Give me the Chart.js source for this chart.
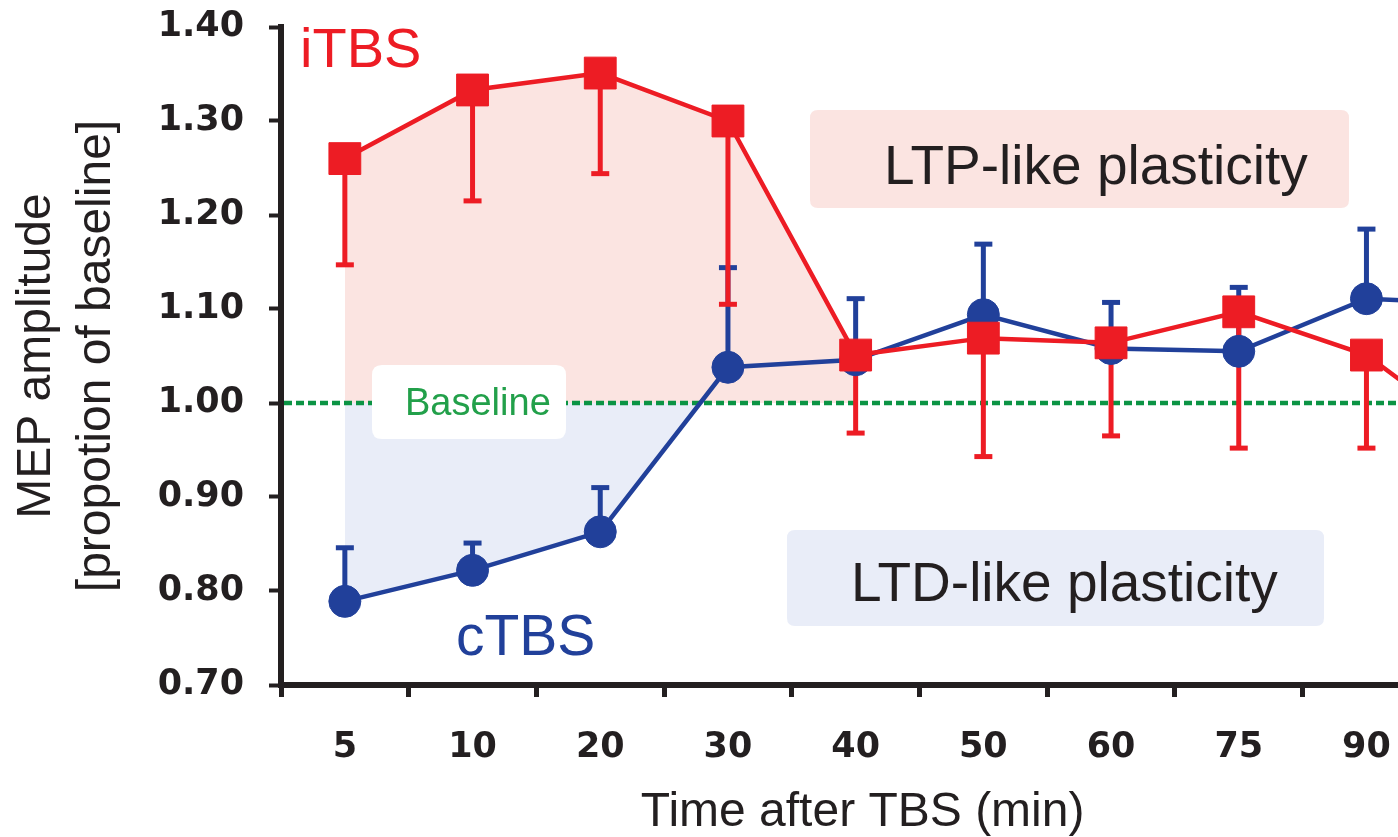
<!DOCTYPE html>
<html>
<head>
<meta charset="utf-8">
<script src="https://cdn.jsdelivr.net/npm/chart.js@4.4.1/dist/chart.umd.min.js"></script>
<style>
html,body{margin:0;padding:0;overflow:hidden;background:#fff;width:1398px;height:837px}
#wrap{position:absolute;left:0;top:0;width:1600px;height:837px}
</style>
</head>
<body>
<div id="wrap"><canvas id="c" width="1600" height="837"></canvas></div>
<script>
// ---- data ----
const categories = ['5', '10', '20', '30', '40', '50', '60', '75', '90', '120'];
const itbsMean = [1.260, 1.333, 1.351, 1.300, 1.051, 1.069, 1.064, 1.097, 1.051, 0.950];
const itbsSem  = [0.113, 0.118, 0.107, 0.195, 0.083, 0.126, 0.099, 0.145, 0.099, 0.100];
const ctbsMean = [0.789, 0.822, 0.863, 1.038, 1.046, 1.094, 1.058, 1.055, 1.111, 1.105];
const ctbsSem  = [0.057, 0.029, 0.047, 0.106, 0.065, 0.075, 0.049, 0.068, 0.074, 0.070];
const itbsShade = [1.260, 1.333, 1.351, 1.300, 1.051, null, null, null, null, null];
const ctbsShade = [0.789, 0.822, 0.863, 1.038, null, null, null, null, null, null];
const baselineValue = 1.00;
const yTicks = [0.70, 0.80, 0.90, 1.00, 1.10, 1.20, 1.30, 1.40];

// ---- style ----
const RED = '#ed1c24', BLUE = '#21409a', GREEN = '#0b9444', INK = '#231f20';
const PINK = '#fbe4e1', LIGHTBLUE = '#e9edf8';
const SANS = '"Liberation Sans", Arial, Helvetica, sans-serif';
const TICKFONT = '"DejaVu Sans", Verdana, sans-serif';

function rrect(ctx, x, y, w, h, r) {
  ctx.beginPath();
  ctx.moveTo(x + r, y);
  ctx.lineTo(x + w - r, y); ctx.quadraticCurveTo(x + w, y, x + w, y + r);
  ctx.lineTo(x + w, y + h - r); ctx.quadraticCurveTo(x + w, y + h, x + w - r, y + h);
  ctx.lineTo(x + r, y + h); ctx.quadraticCurveTo(x, y + h, x, y + h - r);
  ctx.lineTo(x, y + r); ctx.quadraticCurveTo(x, y, x + r, y);
  ctx.closePath();
}

function drawErrors(chart, means, sems, dir, color) {
  const ctx = chart.ctx, xs = chart.scales.x, ys = chart.scales.y;
  ctx.strokeStyle = color;
  ctx.lineCap = 'butt';
  for (let i = 0; i < means.length; i++) {
    const px = xs.getPixelForValue(i);
    const y0 = ys.getPixelForValue(means[i]);
    const y1 = ys.getPixelForValue(means[i] + dir * sems[i]);
    ctx.lineWidth = 5;
    ctx.beginPath(); ctx.moveTo(px, y0); ctx.lineTo(px, y1); ctx.stroke();
    ctx.beginPath(); ctx.moveTo(px - 9, y1); ctx.lineTo(px + 9, y1); ctx.stroke();
  }
}

const decor = {
  id: 'decor',
  beforeDatasetDraw(chart, args) {
    if (args.index !== 1) return;
    const ctx = chart.ctx, ca = chart.chartArea, ys = chart.scales.y;
    ctx.save();
    // baseline
    const by = ys.getPixelForValue(baselineValue);
    ctx.strokeStyle = GREEN; ctx.lineWidth = 4.5; ctx.setLineDash([8, 4]);
    ctx.beginPath(); ctx.moveTo(ca.left + 3, by); ctx.lineTo(ca.right, by); ctx.stroke();
    ctx.setLineDash([]);
    // label boxes
    ctx.fillStyle = '#ffffff'; rrect(ctx, 372, 365, 194, 74, 10); ctx.fill();
    ctx.fillStyle = PINK; rrect(ctx, 810, 110, 539, 98, 8); ctx.fill();
    ctx.fillStyle = LIGHTBLUE; rrect(ctx, 787, 530, 537, 96, 8); ctx.fill();
    ctx.textAlign = 'left'; ctx.textBaseline = 'alphabetic';
    ctx.fillStyle = '#22a04a'; ctx.font = '38px ' + SANS;
    ctx.fillText('Baseline', 405, 415);
    ctx.fillStyle = INK; ctx.font = '55px ' + SANS;
    ctx.fillText('LTP-like plasticity', 884, 184);
    ctx.fillText('LTD-like plasticity', 851, 601);
    ctx.fillStyle = RED; ctx.font = '56px ' + SANS;
    ctx.fillText('iTBS', 300, 67);
    ctx.fillStyle = BLUE; ctx.font = '57px ' + SANS;
    ctx.fillText('cTBS', 456, 655);
    // error bars
    drawErrors(chart, ctbsMean, ctbsSem, +1, BLUE);
    drawErrors(chart, itbsMean, itbsSem, -1, RED);
    ctx.restore();
  },
  afterDraw(chart) {
    const ctx = chart.ctx, xs = chart.scales.x;
    ctx.save();
    ctx.fillStyle = INK; ctx.font = '48px ' + SANS;
    ctx.textAlign = 'center'; ctx.textBaseline = 'alphabetic';
    ctx.fillText('Time after TBS (min)', xs.getPixelForValue(4) + 7, 826);
    ctx.restore();
  }
};

new Chart(document.getElementById('c'), {
  type: 'line',
  data: {
    labels: categories,
    datasets: [
      { label: 'iTBS', data: itbsMean, order: 0, borderColor: RED, borderWidth: 4.5,
        pointStyle: 'rect', pointRadius: 22.5, pointBackgroundColor: RED, pointBorderColor: RED,
        pointBorderWidth: 1, fill: false, tension: 0 },
      { label: 'cTBS', data: ctbsMean, order: 1, borderColor: BLUE, borderWidth: 4.5,
        pointStyle: 'circle', pointRadius: 16, pointBackgroundColor: BLUE, pointBorderColor: BLUE,
        pointBorderWidth: 1, fill: false, tension: 0 },
      { label: 'cTBS shade', data: ctbsShade, order: 3, borderWidth: 0, borderColor: 'rgba(0,0,0,0)',
        pointRadius: 0, backgroundColor: LIGHTBLUE,
        fill: { target: { value: baselineValue }, above: 'rgba(0,0,0,0)', below: LIGHTBLUE } },
      { label: 'iTBS shade', data: itbsShade, order: 4, borderWidth: 0, borderColor: 'rgba(0,0,0,0)',
        pointRadius: 0, backgroundColor: PINK,
        fill: { target: { value: baselineValue }, above: PINK, below: 'rgba(0,0,0,0)' } }
    ]
  },
  options: {
    responsive: false,
    animation: false,
    devicePixelRatio: 1,
    layout: { padding: { left: 0, top: 27, right: 42, bottom: 0 } },
    plugins: { legend: { display: false }, tooltip: { enabled: false } },
    scales: {
      x: {
        type: 'category',
        offset: true,
        border: { display: true, color: INK, width: 6 },
        grid: { display: true, drawOnChartArea: false, drawTicks: true, offset: true,
                tickLength: 12, tickWidth: 5, tickColor: INK },
        ticks: { color: INK, font: { family: TICKFONT, size: 35, weight: 'bold' },
                 padding: 30, maxRotation: 0, autoSkip: false },
        afterFit: (s) => { s.height = 152; }
      },
      y: {
        min: 0.7, max: 1.4,
        border: { display: true, color: INK, width: 6 },
        grid: { display: true, drawOnChartArea: false, drawTicks: true,
                tickLength: 12, tickWidth: 4, tickColor: INK },
        afterBuildTicks: (s) => { s.ticks = yTicks.map(v => ({ value: v })); },
        ticks: { color: INK, font: { family: TICKFONT, size: 35, weight: 'bold' }, padding: 25,
                 callback: (v) => Number(v).toFixed(2) },
        title: { display: true, text: ['MEP amplitude', '[propotion of baseline]'], color: INK,
                 font: { family: SANS, size: 48, lineHeight: 1.25 }, padding: { top: 7, bottom: 0 } },
        afterFit: (s) => { s.width = 281; s.paddingTop = 0; s.paddingBottom = 0; }
      }
    }
  },
  plugins: [decor]
});
</script>
</body>
</html>
